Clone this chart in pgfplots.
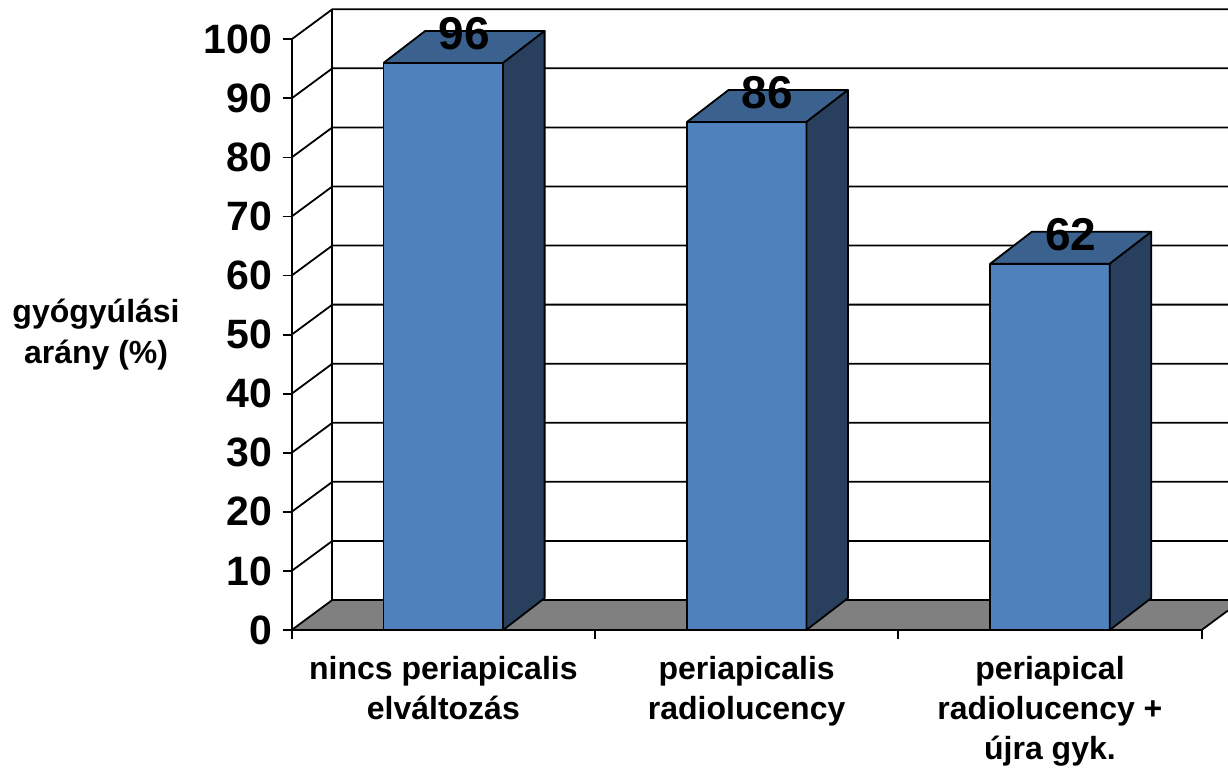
\documentclass[border=0pt]{standalone}
\usepackage{pgfplots}
\pgfplotsset{compat=1.18}
\usepackage{fontspec}
\setmainfont{Liberation Sans}
\definecolor{barfront}{RGB}{79,129,189}
\definecolor{bartop}{RGB}{59,97,142}
\definecolor{barside}{RGB}{40,63,94}
\definecolor{floorgray}{RGB}{128,128,128}
\begin{document}
\begin{tikzpicture}
\begin{axis}[
  scale only axis, width=468.15pt, height=315pt,
  xmin=0, xmax=3.0870, ymin=0, ymax=106.65,
  axis line style={draw=none},
  ytick={0,10,...,100}, ytick pos=left,
  xtick={0,1,2,3}, xticklabels={{},{},{},{}}, xtick pos=bottom,
  tick align=outside, major tick length=4.5pt,
  tick style={black, line width=0.9pt},
  yticklabel style={font=\fontsize{20.5}{24}\selectfont\bfseries, inner sep=0pt, xshift=-5pt},
  /pgf/number format/assume math mode=true,
  clip=false,
  line join=round,
]
% floor
\fill[floorgray] (axis cs:0,0) -- (axis cs:3,0) -- (axis cs:3.087,3.3) -- (axis cs:3.087,5.08) -- (axis cs:0.134,5.08) -- cycle;
\draw[line width=0.9pt] (axis cs:3,0) -- (axis cs:3.087,3.3);
% walls and gridlines
\draw[line width=0.9pt] (axis cs:0,0) -- (axis cs:3,0);
\draw[line width=0.9pt] (axis cs:0,0) -- (axis cs:0,100);
\draw[line width=0.9pt] (axis cs:0.134,5.08) -- (axis cs:0.134,105.08);
\draw[line width=0.9pt] (axis cs:0,0) -- (axis cs:0.134,5.08) -- (axis cs:3.087,5.08);
\draw[line width=0.9pt] (axis cs:0,10) -- (axis cs:0.134,15.08) -- (axis cs:3.087,15.08);
\draw[line width=0.9pt] (axis cs:0,20) -- (axis cs:0.134,25.08) -- (axis cs:3.087,25.08);
\draw[line width=0.9pt] (axis cs:0,30) -- (axis cs:0.134,35.08) -- (axis cs:3.087,35.08);
\draw[line width=0.9pt] (axis cs:0,40) -- (axis cs:0.134,45.08) -- (axis cs:3.087,45.08);
\draw[line width=0.9pt] (axis cs:0,50) -- (axis cs:0.134,55.08) -- (axis cs:3.087,55.08);
\draw[line width=0.9pt] (axis cs:0,60) -- (axis cs:0.134,65.08) -- (axis cs:3.087,65.08);
\draw[line width=0.9pt] (axis cs:0,70) -- (axis cs:0.134,75.08) -- (axis cs:3.087,75.08);
\draw[line width=0.9pt] (axis cs:0,80) -- (axis cs:0.134,85.08) -- (axis cs:3.087,85.08);
\draw[line width=0.9pt] (axis cs:0,90) -- (axis cs:0.134,95.08) -- (axis cs:3.087,95.08);
\draw[line width=0.9pt] (axis cs:0,100) -- (axis cs:0.134,105.08) -- (axis cs:3.087,105.08);
% bar 1: value 96
\addplot[fill=barfront, draw=black, line width=0.9pt] coordinates {(0.303,0) (0.697,0) (0.697,96) (0.303,96) (0.303,0)};
\addplot[fill=bartop, draw=black, line width=0.9pt] coordinates {(0.303,96) (0.697,96) (0.834,101.4) (0.440,101.4) (0.303,96)};
\addplot[fill=barside, draw=black, line width=0.9pt] coordinates {(0.697,0) (0.834,5.4) (0.834,101.4) (0.697,96) (0.697,0)};
% bar 2: value 86
\addplot[fill=barfront, draw=black, line width=0.9pt] coordinates {(1.303,0) (1.697,0) (1.697,86) (1.303,86) (1.303,0)};
\addplot[fill=bartop, draw=black, line width=0.9pt] coordinates {(1.303,86) (1.697,86) (1.834,91.4) (1.440,91.4) (1.303,86)};
\addplot[fill=barside, draw=black, line width=0.9pt] coordinates {(1.697,0) (1.834,5.4) (1.834,91.4) (1.697,86) (1.697,0)};
% bar 3: value 62
\addplot[fill=barfront, draw=black, line width=0.9pt] coordinates {(2.303,0) (2.697,0) (2.697,62) (2.303,62) (2.303,0)};
\addplot[fill=bartop, draw=black, line width=0.9pt] coordinates {(2.303,62) (2.697,62) (2.834,67.4) (2.440,67.4) (2.303,62)};
\addplot[fill=barside, draw=black, line width=0.9pt] coordinates {(2.697,0) (2.834,5.4) (2.834,67.4) (2.697,62) (2.697,0)};
% value labels
\addplot[draw=none, mark=none, nodes near coords, point meta=explicit,
  every node near coord/.append style={anchor=center, font=\fontsize{23}{27}\selectfont\bfseries}]
  coordinates {(0.5685,101) [96] (1.5685,91) [86] (2.5685,67) [62]};
% labels
\node[align=center, font=\fontsize{16}{20.5}\selectfont\bfseries] at (axis cs:-0.645,50.0) {gyógyúlási\\arány (\%)};
\node[anchor=north, inner sep=0pt, align=center, font=\fontsize{16}{20}\selectfont\bfseries] at (axis cs:0.5,-4.4) {nincs periapicalis\\elváltozás};
\node[anchor=north, inner sep=0pt, align=center, font=\fontsize{16}{20}\selectfont\bfseries] at (axis cs:1.5,-4.4) {periapicalis\\radiolucency};
\node[anchor=north, inner sep=0pt, align=center, font=\fontsize{16}{20}\selectfont\bfseries] at (axis cs:2.5,-4.4) {periapical\\radiolucency +\\újra gyk.};
\coordinate (bl) at (axis cs:-0.9617,-24.04);
\coordinate (tr) at (axis cs:3.0870,106.65);
\end{axis}
\pgfresetboundingbox
\path[use as bounding box] (bl) rectangle (tr);
\end{tikzpicture}
\end{document}
